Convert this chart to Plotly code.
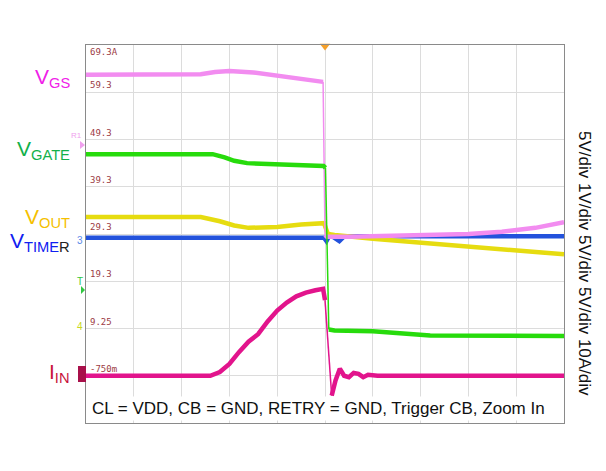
import plotly.graph_objects as go

# Time base: 10 us/div, 10 divisions. Vertical values are in screen divisions (0..8).
t_vgs = [0, 20, 24, 27, 30, 35, 40, 45, 49.6, 50.0, 50.4, 55, 60, 70, 80, 87, 94, 100]
v_vgs = [7.37, 7.37, 7.38, 7.43, 7.45, 7.42, 7.35, 7.28, 7.22, 3.98, 3.94, 3.94, 3.95, 3.96, 4.0, 4.05, 4.13, 4.25]

t_gate = [0, 26.5, 29, 31, 33.7, 40, 45, 49.7, 50.1, 50.8, 52, 60, 66, 72, 100]
v_gate = [5.69, 5.69, 5.62, 5.55, 5.50, 5.48, 5.46, 5.44, 5.40, 1.98, 1.96, 1.94, 1.9, 1.85, 1.84]

t_out = [0, 24, 28, 31, 34, 40, 45, 49.8, 50.6, 52, 60, 70, 80, 90, 100]
v_out = [4.36, 4.36, 4.27, 4.18, 4.13, 4.15, 4.2, 4.23, 4.0, 3.98, 3.9, 3.82, 3.74, 3.66, 3.57]

t_timer = [0, 49.8, 50.3, 51, 52, 53, 54, 100]
v_timer = [3.92, 3.92, 3.85, 3.98, 3.92, 3.85, 3.95, 3.95]

t_in = [0, 26, 28, 30, 32, 34, 36, 38, 40, 42, 44, 46, 48, 49.6, 50.0, 51.4,
        52.2, 53.1, 54, 55, 56, 57, 58, 59, 61, 100]
v_in = [1.0, 1.0, 1.08, 1.25, 1.5, 1.72, 1.88, 2.15, 2.38, 2.55, 2.68, 2.76, 2.81, 2.84, 2.6, 0.58,
        0.9, 1.15, 1.0, 0.97, 1.06, 1.04, 0.97, 1.02, 1.0, 1.0]

scale_labels = ["-750m", "9.25", "19.3", "29.3", "39.3", "49.3", "59.3", "69.3A"]
right_text = "5V/div 1V/div 5V/div 5V/div 10A/div"
note_text = "CL = VDD, CB = GND, RETRY = GND, Trigger CB, Zoom In"

FONT = "Liberation Sans, Arial, sans-serif"

fig = go.Figure()


def add_trace(t, v, color, width=4.5):
    # steady portions drawn thick, fast edges drawn thin
    tx, ty, fx, fy = [], [], [], []
    for i in range(len(t)):
        tx.append(t[i]); ty.append(v[i])
        if i < len(t) - 1:
            fast = (t[i + 1] - t[i]) < 1.5 and abs(v[i + 1] - v[i]) > 0.6
            if fast:
                fx += [t[i], t[i + 1], None]; fy += [v[i], v[i + 1], None]
                tx.append(None); ty.append(None)
    fig.add_trace(go.Scatter(x=fx, y=fy, mode="lines", line=dict(color=color, width=1.5),
                             hoverinfo="skip", showlegend=False))
    fig.add_trace(go.Scatter(x=tx, y=ty, mode="lines", line=dict(color=color, width=width),
                             hoverinfo="skip", showlegend=False))


add_trace(t_timer, v_timer, "#2352dc")
add_trace(t_out, v_out, "#e6dc10")
add_trace(t_vgs, v_vgs, "#f28cf0")
add_trace(t_gate, v_gate, "#27db0c")
add_trace(t_in, v_in, "#e2148c")

# trigger marker
fig.add_trace(go.Scatter(x=[50], y=[7.98], mode="markers",
                         marker=dict(symbol="triangle-down", size=9, color="#f5a02a"),
                         cliponaxis=False, hoverinfo="skip", showlegend=False))

ann = []
# channel scale readouts
for k, lab in enumerate(scale_labels):
    gy = k + 1
    ann.append(dict(x=0.4, y=gy, xref="x", yref="y", text=lab, showarrow=False,
                    xanchor="left", yanchor="top" if gy == 8 else "bottom",
                    font=dict(family="DejaVu Sans Mono, monospace", size=9, color="#9c3b44")))

px0 = 86.0
pw = 478.0


def px(xp):
    return (xp - px0) / pw


def py(yp):
    return (423 - yp) / 47.25


labels = [
    ("V<sub>GS</sub>", "#f020e8", 78),
    ("V<sub>GATE</sub>", "#12b04a", 150),
    ("V<sub>OUT</sub>", "#f5c000", 218),
    ("V<sub>TIME<span style='color:#222'>R</span></sub>", "#1020f0", 242),
    ("I<sub>IN</sub>", "#c8143c", 373),
]
for txt, col, yp in labels:
    ann.append(dict(x=px(72), y=py(yp), xref="paper", yref="y", text=txt, showarrow=False,
                    xanchor="right", yanchor="middle",
                    font=dict(family=FONT, size=21, color=col)))

# small channel markers on the left edge
ann.append(dict(x=px(84), y=py(135), xref="paper", yref="y", text="R1", showarrow=False,
                xanchor="right", font=dict(family=FONT, size=8, color="#f0a0ee")))
ann.append(dict(x=px(85), y=py(240), xref="paper", yref="y", text="3", showarrow=False,
                xanchor="right", font=dict(family=FONT, size=10, color="#5a8ae8")))
ann.append(dict(x=px(85), y=py(281), xref="paper", yref="y", text="T", showarrow=False,
                xanchor="right", font=dict(family=FONT, size=10, color="#30c840")))
ann.append(dict(x=px(85), y=py(326), xref="paper", yref="y", text="4", showarrow=False,
                xanchor="right", font=dict(family=FONT, size=10, color="#c8d820")))

ann.append(dict(x=px(318), y=py(408), xref="paper", yref="y", text=note_text, showarrow=False,
                xanchor="center", yanchor="middle", bgcolor="white", borderpad=2,
                font=dict(family=FONT, size=17, color="#111")))

ann.append(dict(x=px(585), y=py(263), xref="paper", yref="y", text=right_text, showarrow=False,
                textangle=90, xanchor="center", yanchor="middle",
                font=dict(family=FONT, size=17, color="#111")))

ann.append(dict(x=px(323), y=py(458), xref="paper", yref="y", text="Time (10µs/div)", showarrow=False,
                xanchor="center", yanchor="middle",
                font=dict(family=FONT, size=17, color="#111")))

ann.append(dict(x=px(306), y=py(18), xref="paper", yref="y", text="Short-Circuit Protection",
                showarrow=False, xanchor="center", yanchor="middle",
                font=dict(family=FONT, size=16, color="#111")))

shapes = [
    # IN channel marker box
    dict(type="rect", xref="paper", yref="y", x0=px(78), x1=px(86), y0=py(382), y1=py(366),
         fillcolor="#a8104a", line=dict(width=0)),
    # triangles for channel arrows
    dict(type="path", xref="paper", yref="y",
         path=f"M {px(80)} {py(141)} L {px(85)} {py(145)} L {px(80)} {py(149)} Z",
         fillcolor="#f0a0ee", line=dict(width=0)),
    dict(type="path", xref="paper", yref="y",
         path=f"M {px(81)} {py(286)} L {px(85)} {py(290)} L {px(81)} {py(294)} Z",
         fillcolor="#30c840", line=dict(width=0)),
]

fig.update_layout(
    width=606, height=471,
    margin=dict(l=86, r=42, t=45, b=48),
    paper_bgcolor="white", plot_bgcolor="white",
    annotations=ann, shapes=shapes,
    xaxis=dict(range=[0, 100], dtick=10, showticklabels=False, showgrid=True,
               gridcolor="#dcdcdc", gridwidth=1, zeroline=False,
               showline=True, mirror=True, linecolor="#8a8a8a", linewidth=1, ticks=""),
    yaxis=dict(range=[0, 8], dtick=1, showticklabels=False, showgrid=True,
               gridcolor="#dcdcdc", gridwidth=1, zeroline=False,
               showline=True, mirror=True, linecolor="#8a8a8a", linewidth=1, ticks=""),
    showlegend=False,
)

fig.write_html("out.html")
